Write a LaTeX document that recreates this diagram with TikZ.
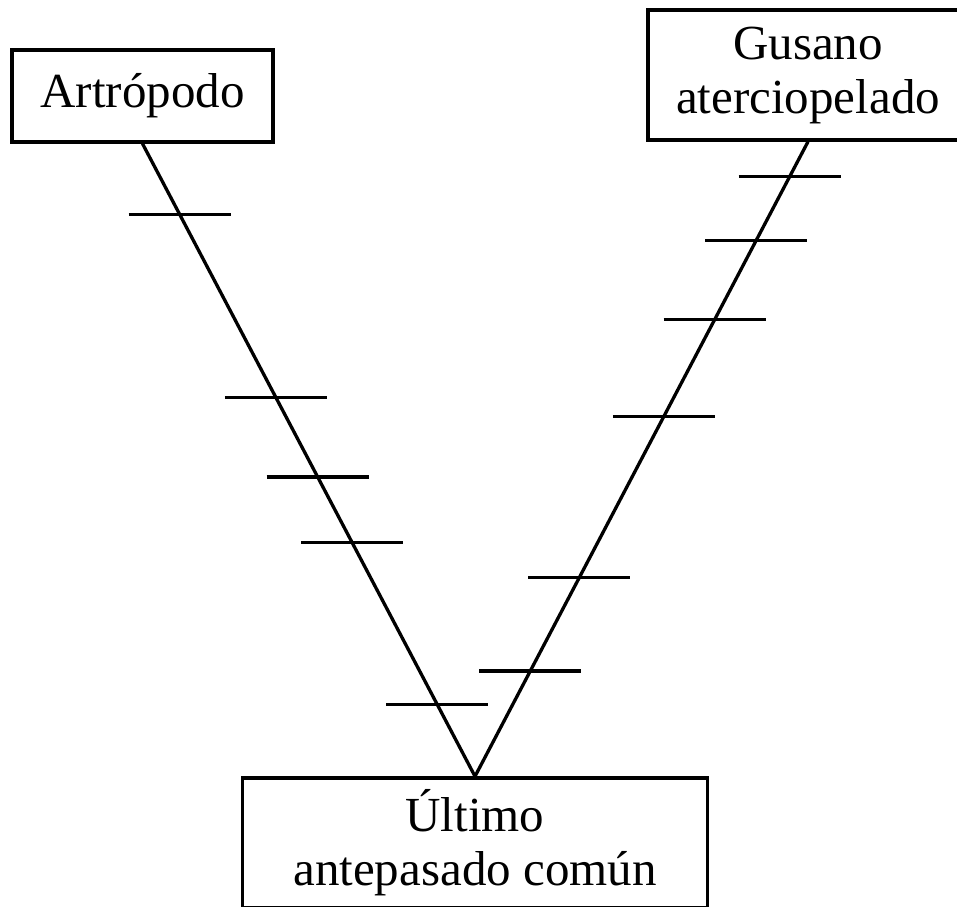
\documentclass[tikz,border=0pt]{standalone}
\usepackage{fontspec}
\setmainfont{Liberation Serif}
\usetikzlibrary{calc}
\begin{document}
\begin{tikzpicture}[x=1pt,y=-1pt,
  taxon/.style={draw=black,line width=3.3pt,fill=white,inner sep=0pt,align=center,
    font=\fontsize{49}{54}\selectfont},
  branch/.style={draw=black,line width=3.3pt},
  tick/.style={draw=black,line width=3.3pt}]
\useasboundingbox (0,0) rectangle (957,906);
\node[taxon,minimum width=261pt,minimum height=92pt] (art) at (142.5,96) {Artrópodo};
\node[taxon,minimum width=320pt,minimum height=130pt] (gus) at (808,75) {Gusano\\aterciopelado};
\node[taxon,minimum width=465pt,minimum height=130pt] (lca) at (475,843) {Último\\antepasado común};
\draw[branch] (art.south) -- (lca.north);
\draw[branch] (gus.south) -- (lca.north);
\foreach \t [count=\i] in {0.1116,0.4009,0.5267,0.6305,0.8868}{
  \path (art.south) -- (lca.north) coordinate[pos=\t] (l\i);
  \draw[tick] ([xshift=-51pt]l\i) -- ([xshift=51pt]l\i);
}
\foreach \t [count=\i] in {0.0549,0.1552,0.2806,0.4326,0.6865,0.8339}{
  \path (gus.south) -- (lca.north) coordinate[pos=\t] (r\i);
  \draw[tick] ([xshift=-51pt]r\i) -- ([xshift=51pt]r\i);
}
\end{tikzpicture}
\end{document}
